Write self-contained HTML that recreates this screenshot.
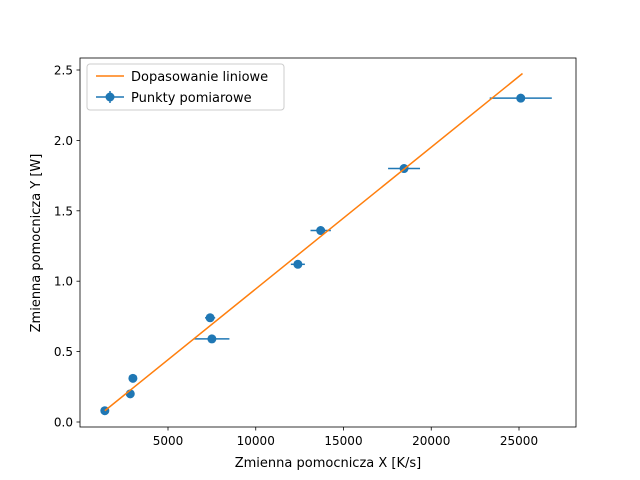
<!DOCTYPE html>
<html><head><meta charset="utf-8"><style>body{margin:0;background:#fff}svg{display:block;font-family:"DejaVu Sans","Liberation Sans",sans-serif}</style></head>
<body>
<svg id="chart" width="640" height="480">
<rect x="0" y="0" width="640" height="480" fill="#fff"/>
<g id="grid"></g>
<g id="marks"></g>
<rect x="80" y="58" width="496" height="369" fill="none" stroke="#000" stroke-width="0.8"/>
<text x="328" y="467" font-size="13" text-anchor="middle">Zmienna pomocnicza X [K/s]</text>
<text transform="translate(40,243) rotate(-90)" font-size="13" text-anchor="middle">Zmienna pomocnicza Y [W]</text>
<g>
<rect x="87" y="64" width="197" height="46" rx="3" fill="#fff" fill-opacity="0.8" stroke="#ccc"/>
<line x1="96" y1="76" x2="124" y2="76" stroke="#ff7f0e" stroke-width="1.5"/>
<text x="131" y="81" font-size="13">Dopasowanie liniowe</text>
<line x1="96" y1="97" x2="124" y2="97" stroke="#1f77b4" stroke-width="1.5"/>
<line x1="110" y1="91" x2="110" y2="103" stroke="#1f77b4" stroke-width="1.5"/>
<circle cx="110" cy="97" r="4.5" fill="#1f77b4"/>
<text x="131" y="102" font-size="13">Punkty pomiarowe</text>
</g>
</svg>
<script>
const xs=[1400,2850,3000,7400,7500,12400,13700,18450,25100];
const ys=[0.08,0.20,0.31,0.74,0.59,1.12,1.36,1.80,2.30];
const xerr=[100,100,100,290,1000,400,580,910,1770];
const yerr=[0.01,0.01,0.01,0.02,0.02,0.02,0.03,0.03,0.03];
const fitX=[1400,25200];
const fitY=[0.08,2.475];
const xTicks=[5000,10000,15000,20000,25000];
const yTicks=[0.0,0.5,1.0,1.5,2.0,2.5];
const X=v=>80.25+v*0.01755, Y=v=>422-v*140.8;
const NS="http://www.w3.org/2000/svg";
const g=document.getElementById('grid'), m=document.getElementById('marks');
function mk(p,t,a){const e=document.createElementNS(NS,t);for(const k in a)e.setAttribute(k,a[k]);p.appendChild(e);return e;}
xTicks.forEach(t=>{const x=X(t);
const l=mk(g,'line',{x1:x,y1:427,x2:x,y2:430.5,stroke:'#000','stroke-width':0.8});


const tx=mk(g,'text',{x:x,y:445,'font-size':12,'text-anchor':'middle'});tx.textContent=t;

});
yTicks.forEach(t=>{const y=Y(t);
const l=mk(g,'line',{x1:76.5,y1:y,x2:80,y2:y,stroke:'#000','stroke-width':0.8});


const tx=mk(g,'text',{x:73,y:y+4.5,'font-size':12,'text-anchor':'end'});tx.textContent=t.toFixed(1);

});
xs.forEach((x,i)=>{
const e1=mk(m,'line',{x1:X(x-xerr[i]),y1:Y(ys[i]),x2:X(x+xerr[i]),y2:Y(ys[i]),stroke:'#1f77b4','stroke-width':1.5});


const e2=mk(m,'line',{x1:X(x),y1:Y(ys[i]-yerr[i]),x2:X(x),y2:Y(ys[i]+yerr[i]),stroke:'#1f77b4','stroke-width':1.5});


const c=mk(m,'circle',{cx:X(x),cy:Y(ys[i]),r:4.5,fill:'#1f77b4'});

});
const fl=mk(m,'line',{x1:X(fitX[0]),y1:Y(fitY[0]),x2:X(fitX[1]),y2:Y(fitY[1]),stroke:'#ff7f0e','stroke-width':1.5});


</script>
</body></html>
